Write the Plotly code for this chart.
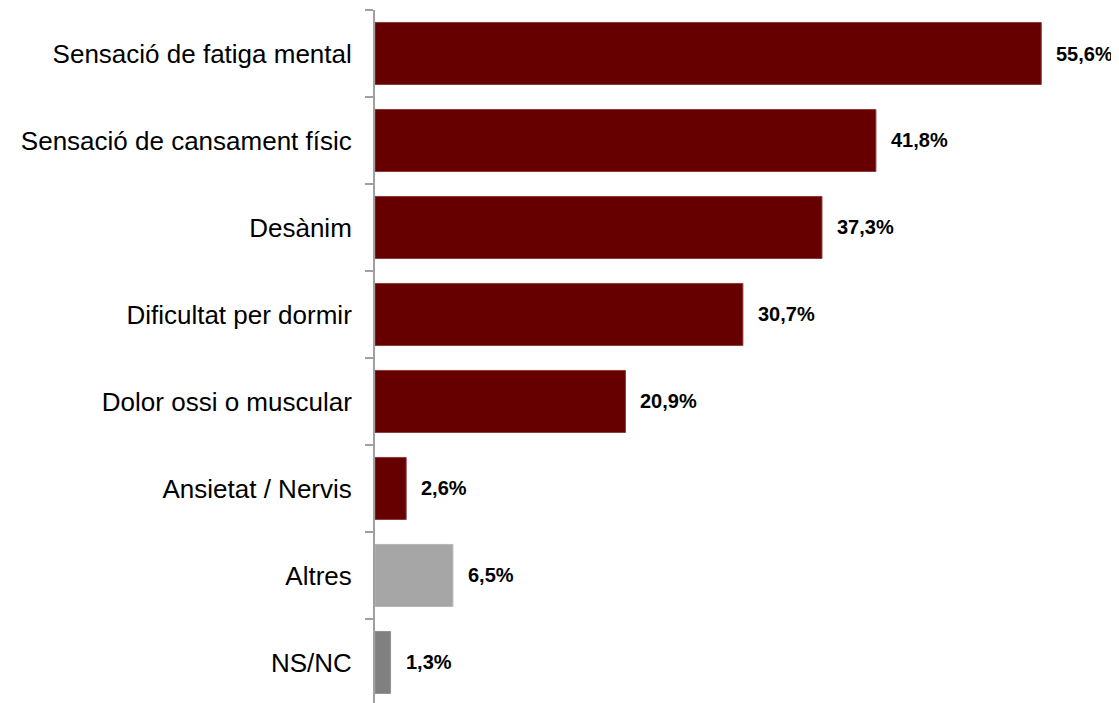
import plotly.graph_objects as go

categories = [
    "Sensació de fatiga mental",
    "Sensació de cansament físic",
    "Desànim",
    "Dificultat per dormir",
    "Dolor ossi o muscular",
    "Ansietat / Nervis",
    "Altres",
    "NS/NC",
]
values = [55.6, 41.8, 37.3, 30.7, 20.9, 2.6, 6.5, 1.3]
value_labels = ["55,6%", "41,8%", "37,3%", "30,7%", "20,9%", "2,6%", "6,5%", "1,3%"]
bar_colors = ["#660000"] * 6 + ["#A6A6A6", "#808080"]
line_colors = ["#8E3B3B"] * 6 + ["#B5B5B5", "#939393"]

font_family = "Liberation Sans, Arial, sans-serif"

fig = go.Figure(
    go.Bar(
        x=values,
        y=categories,
        orientation="h",
        marker=dict(color=bar_colors, line=dict(color=line_colors, width=1)),
        hoverinfo="skip",
    )
)

for v, c, lab in zip(values, categories, value_labels):
    fig.add_annotation(
        x=v, y=c, text="<b>" + lab + "</b>", showarrow=False, xanchor="left", yanchor="middle",
        xshift=13, font=dict(family=font_family, size=20, color="#000000"),
    )

fig.update_layout(
    width=1111,
    height=695,
    margin=dict(l=367, r=25, t=2, b=0),
    paper_bgcolor="white",
    plot_bgcolor="white",
    bargap=0.287,
    showlegend=False,
    font=dict(family=font_family, color="#000000"),
)
fig.update_xaxes(visible=False, range=[0, 60])
fig.update_yaxes(
    type="category",
    categoryorder="array",
    categoryarray=categories,
    range=[7.466, -0.5],
    tickson="boundaries",
    ticks="outside",
    ticklen=8,
    tickwidth=2,
    tickcolor="#A0A0A0",
    showline=True,
    linecolor="#A0A0A0",
    linewidth=2,
    showgrid=False,
    zeroline=False,
    ticklabelstandoff=16,
    tickfont=dict(family=font_family, size=26, color="#000000"),
)

fig.write_html("out.html")
